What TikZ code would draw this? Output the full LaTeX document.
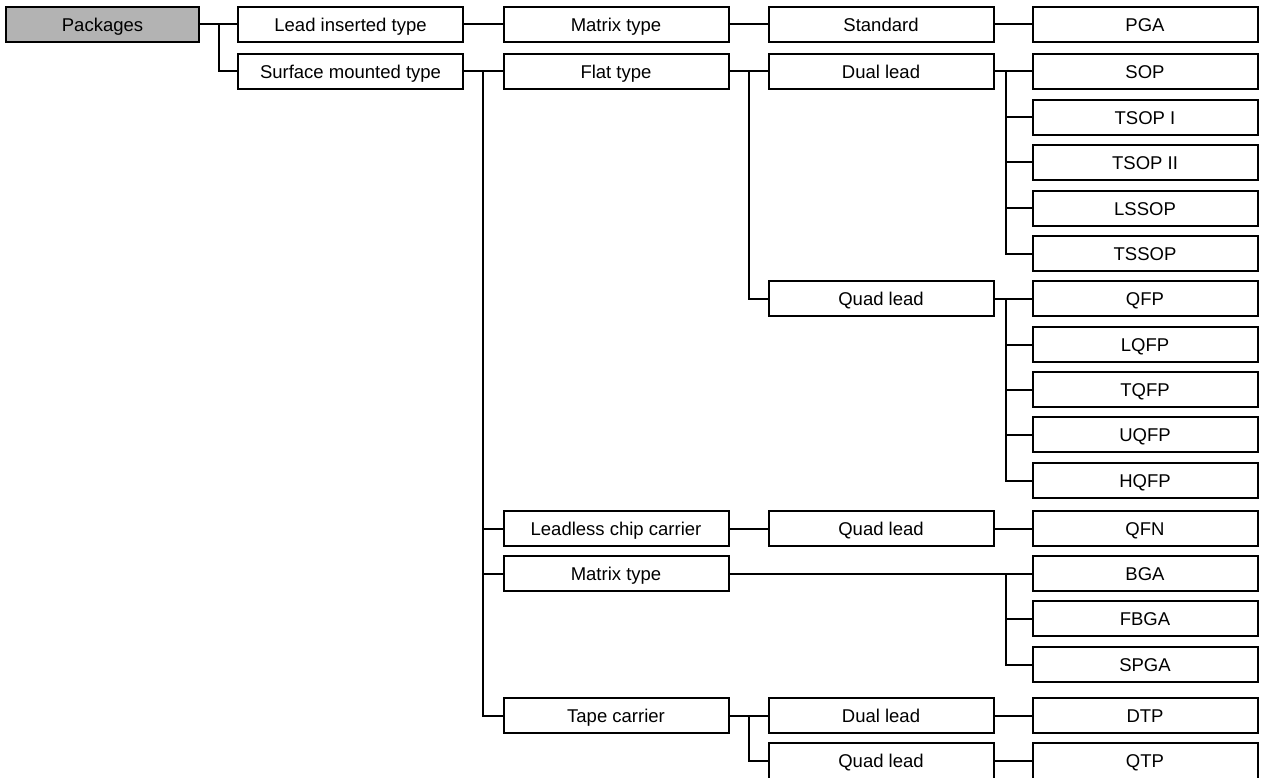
\documentclass[tikz,border=0pt]{standalone}
\usepackage{fontspec}
\setmainfont{Liberation Sans}
\usetikzlibrary{calc}
\definecolor{chartink}{HTML}{000000}
\definecolor{chartroot}{HTML}{B3B3B3}

\begin{document}
\begin{tikzpicture}[
  x=1pt,
  y=-1pt,
  every node/.style={font=\fontsize{18.5}{22}\selectfont, chartink},
  box/.style={draw=chartink, line width=2pt, fill=white, inner sep=0pt,
    minimum width=225pt, minimum height=35.5pt,
    text height=13.3pt, text depth=0pt},
  root/.style={box, fill=chartroot, minimum width=193pt},
  link/.style={chartink, line width=2pt}
]
  \useasboundingbox (0,0) rectangle (1261,778);
  \clip (0,0) rectangle (1261,778);

  % ================= first three columns ================================
  \node[root] (pkg) at (102.5,24.5) {Packages};

  \node[box] (lead) at (350.5,24.5) {Lead inserted type};
  \node[box] (smt)  at (350.5,71.5) {Surface mounted type};

  \node[box] (lmatrix) at (616,24.5)  {Matrix type};
  \node[box] (flat)    at (616,71.5)  {Flat type};
  \node[box] (lcc)     at (616,528.5) {Leadless chip carrier};
  \node[box] (smatrix) at (616,573.5) {Matrix type};
  \node[box] (tape)    at (616,715.5) {Tape carrier};

  \node[box] (std)     at (881,24.5)  {Standard};
  \node[box] (dual)    at (881,71.5)  {Dual lead};
  \node[box] (quad)    at (881,298.5) {Quad lead};
  \node[box] (lccquad) at (881,528.5) {Quad lead};
  \node[box] (tdual)   at (881,715.5) {Dual lead};
  \node[box] (tquad)   at (881,761)   {Quad lead};

  % ================= package names ======================================
  \foreach \n/\t/\y in {pga/PGA/24.5, sop/SOP/71.5, tsopi/TSOP I/117.5,
      tsopii/TSOP II/162.5, lssop/LSSOP/208.5, tssop/TSSOP/253.5,
      qfp/QFP/298.5, lqfp/LQFP/344.5, tqfp/TQFP/389.5, uqfp/UQFP/434.5,
      hqfp/HQFP/480.5, qfn/QFN/528.5, bga/BGA/573.5, fbga/FBGA/618.5,
      spga/SPGA/664.5, dtp/DTP/715.5, qtp/QTP/761}
    \node[box] (\n) at (1145,\y) {\t};

  % ================= connectors =========================================
  \draw[link] (pkg.east) -- (lead.west);
  \draw[link] ($(pkg.east)!0.5!(lead.west)$) |- (smt.west);

  \draw[link] (lead.east) -- (lmatrix.west);
  \draw[link] (lmatrix.east) -- (std.west);
  \draw[link] (std.east) -- (pga.west);

  \draw[link] (smt.east) -- (flat.west);
  \foreach \n in {lcc, smatrix, tape}
    \draw[link] ($(smt.east)!0.5!(flat.west)$) |- (\n.west);

  \draw[link] (flat.east) -- (dual.west);
  \draw[link] ($(flat.east)!0.5!(dual.west)$) |- (quad.west);

  \draw[link] (dual.east) -- (sop.west);
  \foreach \n in {tsopi, tsopii, lssop, tssop}
    \draw[link] ([xshift=-26pt]sop.west) |- (\n.west);

  \draw[link] (quad.east) -- (qfp.west);
  \foreach \n in {lqfp, tqfp, uqfp, hqfp}
    \draw[link] ([xshift=-26pt]qfp.west) |- (\n.west);

  \draw[link] (lcc.east) -- (lccquad.west);
  \draw[link] (lccquad.east) -- (qfn.west);

  \draw[link] (smatrix.east) -- (bga.west);
  \foreach \n in {fbga, spga}
    \draw[link] ([xshift=-26pt]bga.west) |- (\n.west);

  \draw[link] (tape.east) -- (tdual.west);
  \draw[link] ($(tape.east)!0.5!(tdual.west)$) |- (tquad.west);
  \draw[link] (tdual.east) -- (dtp.west);
  \draw[link] (tquad.east) -- (qtp.west);
\end{tikzpicture}
\end{document}
